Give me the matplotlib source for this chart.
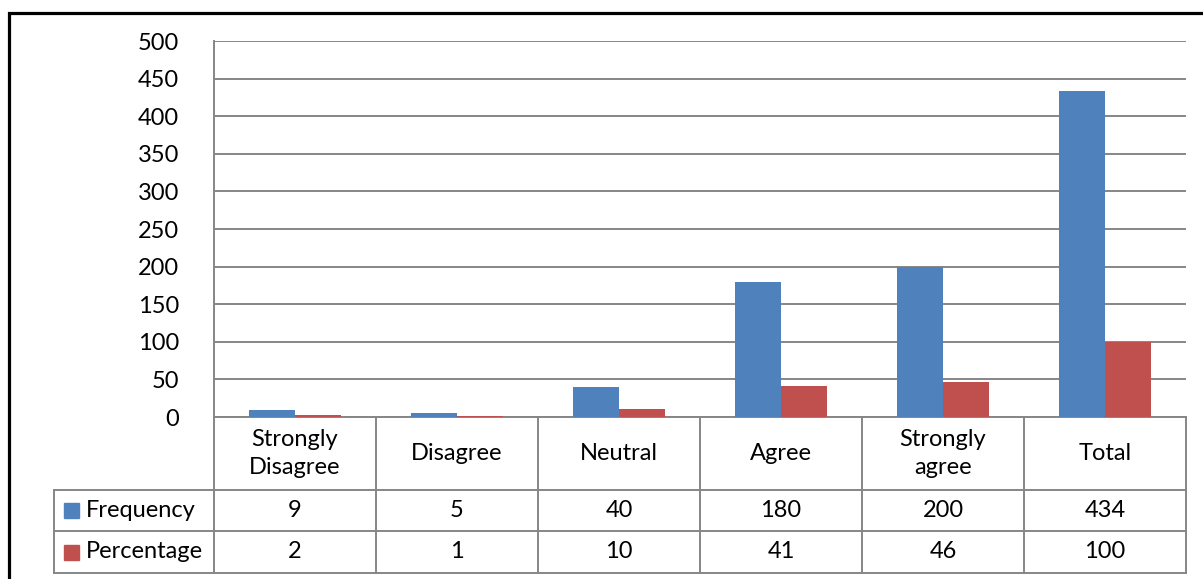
import numpy as np
import matplotlib
matplotlib.use("Agg")
import matplotlib.pyplot as plt
from matplotlib.patches import Rectangle

categories = ["Strongly\nDisagree", "Disagree", "Neutral", "Agree", "Strongly\nagree", "Total"]
frequency  = [9, 5, 40, 180, 200, 434]
percentage = [2, 1, 10, 41, 46, 100]
series_names = ["Frequency", "Percentage"]
yticks = [0, 50, 100, 150, 200, 250, 300, 350, 400, 450, 500]

BLUE = "#4F81BD"
RED  = "#C0504D"
GRID = "#868686"
FONT = "Lato"
FS   = 17

W, H = 1203, 579
fig = plt.figure(figsize=(W / 100, H / 100), dpi=100)

# plot area in pixels: left 214, right 1186, top 41, bottom 417
L, R, T, B = 214, 1186, 41, 417
ax = fig.add_axes([L / W, 1 - B / H, (R - L) / W, (B - T) / H])

x = np.arange(len(categories))
bw = 1 / 3.5
ax.bar(x - bw / 2, frequency, bw, color=BLUE, zorder=3)
ax.bar(x + bw / 2, percentage, bw, color=RED, zorder=3)

ax.set_xlim(-0.5, len(categories) - 0.5)
ax.set_ylim(0, 500)
ax.set_yticks(yticks)
ax.set_yticklabels([str(v) for v in yticks], fontfamily=FONT, fontsize=FS)
ax.tick_params(axis="y", length=0, pad=25)
ax.set_xticks([])
ax.yaxis.grid(True, color=GRID, lw=1.4, zorder=0)
for s in ["top", "right", "bottom"]:
    ax.spines[s].set_visible(False)
ax.spines["left"].set_color(GRID)
ax.spines["left"].set_linewidth(1.4)

# data table under the plot, x in data units, y in axes fraction
tr = ax.get_xaxis_transform()
ph = B - T
y_cat = -(490 - B) / ph
y_freq = -(531 - B) / ph
y_pct = -(573 - B) / ph
x_leg = -0.5 - (L - 54) / ((R - L) / len(categories))
xr = len(categories) - 0.5

def hline(x0, x1, y):
    ax.plot([x0, x1], [y, y], color=GRID, lw=1.4, transform=tr, clip_on=False)

def vline(xx, y0, y1):
    ax.plot([xx, xx], [y0, y1], color=GRID, lw=1.4, transform=tr, clip_on=False)

hline(-0.5, xr, 0)
hline(x_leg, xr, y_cat)
hline(x_leg, xr, y_freq)
hline(x_leg, xr, y_pct)
for i in range(len(categories) + 1):
    vline(i - 0.5, 0, y_pct)
vline(x_leg, y_cat, y_pct)

for i, c in enumerate(categories):
    ax.text(i, y_cat / 2, c, transform=tr, ha="center", va="center",
            fontfamily=FONT, fontsize=FS, linespacing=1.4)
    ax.text(i, (y_cat + y_freq) / 2, str(frequency[i]), transform=tr,
            ha="center", va="center", fontfamily=FONT, fontsize=FS)
    ax.text(i, (y_freq + y_pct) / 2, str(percentage[i]), transform=tr,
            ha="center", va="center", fontfamily=FONT, fontsize=FS)

# legend keys in first column
for name, col, y0, y1 in [(series_names[0], BLUE, y_cat, y_freq),
                          (series_names[1], RED, y_freq, y_pct)]:
    yc = (y0 + y1) / 2
    fx = 64 / W
    fy = 1 - (B - yc * ph) / H
    fig.add_artist(Rectangle((fx, fy - 7.5 / H), 15 / W, 15 / H,
                             transform=fig.transFigure, color=col))
    fig.text(86 / W, fy, name, ha="left", va="center",
             fontfamily=FONT, fontsize=FS)

# outer chart frame (cut at right and bottom)
fig.add_artist(Rectangle((8.5 / W, -0.1), 1.2, 1.1 - 13 / H,
                         transform=fig.transFigure, fill=False,
                         ec="black", lw=2.3))

fig.savefig("out.png", dpi=100)
